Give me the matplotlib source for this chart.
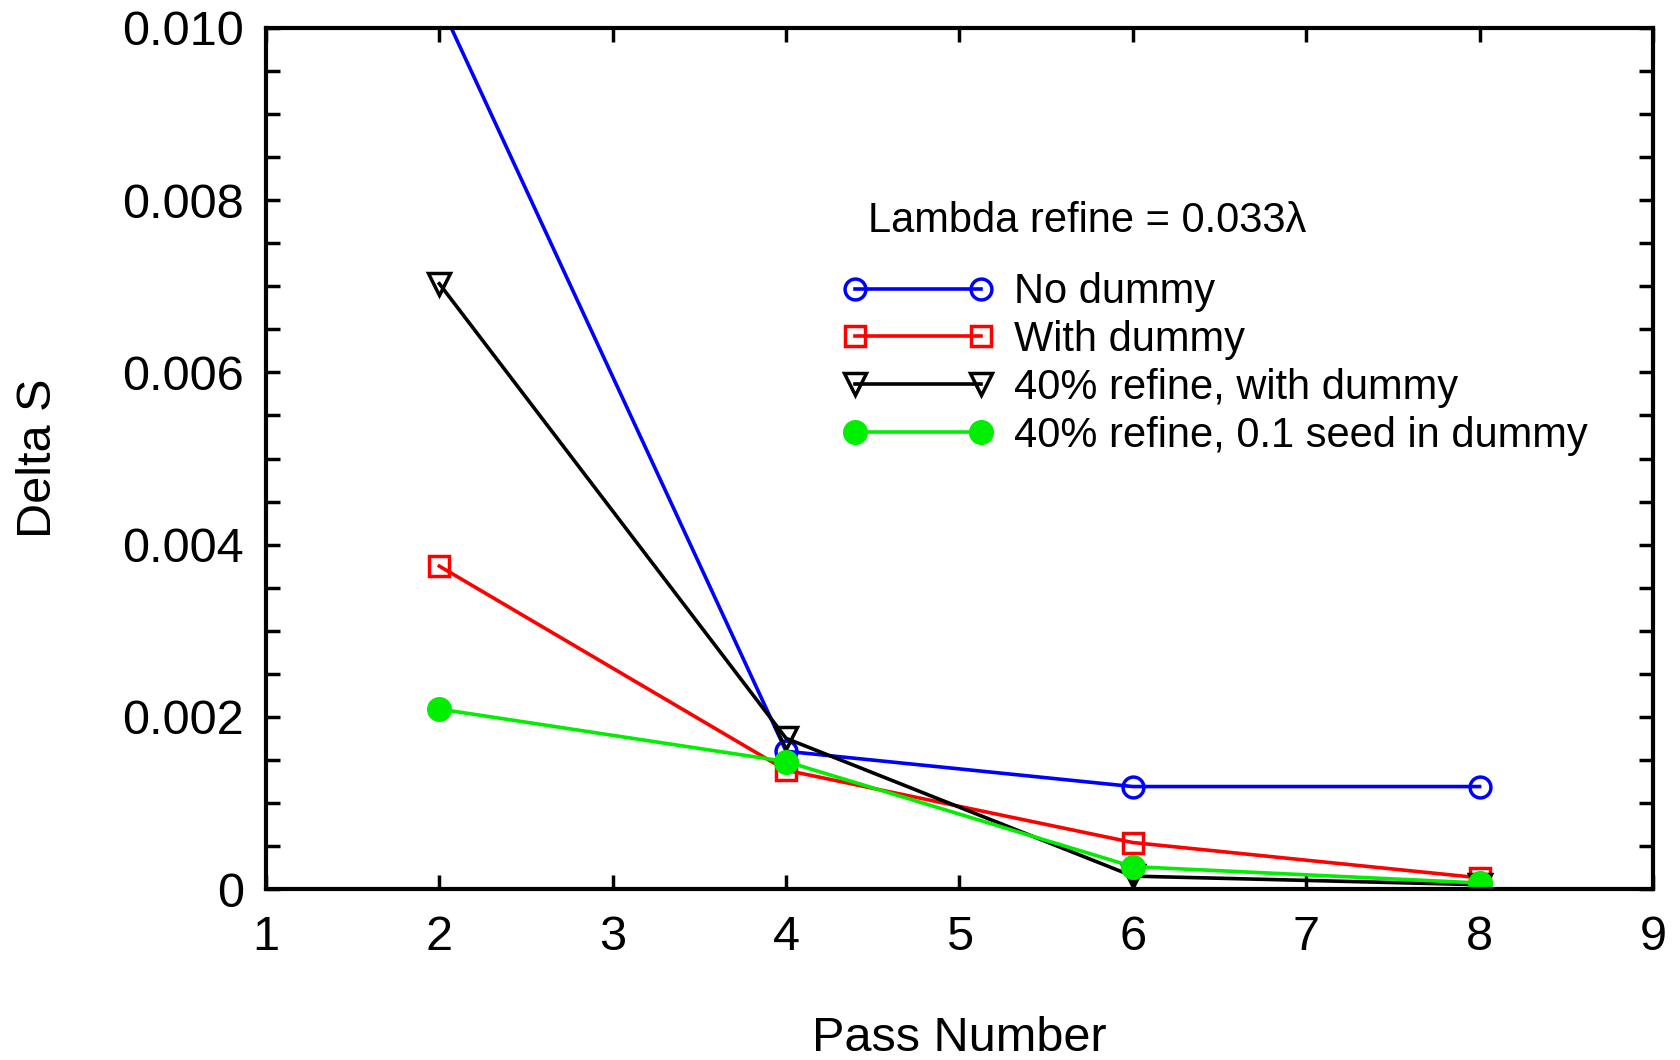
import matplotlib
matplotlib.use("Agg")
import matplotlib.pyplot as plt
from matplotlib.ticker import MultipleLocator

plt.rcParams['font.family'] = ['Liberation Sans', 'DejaVu Sans']

# Delta S per pass number
passes = [2, 4, 6, 8]
no_dummy = [0.0103, 0.00160, 0.00119, 0.00119]
with_dummy = [0.00375, 0.00138, 0.00054, 0.00013]
refine40_dummy = [0.00703, 0.00175, 0.00015, 0.00005]
refine40_seed = [0.00209, 0.00148, 0.00026, 0.00007]

labels = ["No dummy", "With dummy", "40% refine, with dummy",
          "40% refine, 0.1 seed in dummy"]

fig = plt.figure(figsize=(16.8, 10.6), dpi=100)
ax = fig.add_axes([0.1583, 0.1613, 0.8256, 0.8123])

lw = 2.6
ax.plot(passes, no_dummy, color='#0000ff', lw=lw, marker='o', ms=15,
        mfc='none', mew=2.5, label=labels[0])
ax.plot(passes, with_dummy, color='#ff0000', lw=lw, marker='s', ms=15,
        mfc='none', mew=2.5, label=labels[1])
ax.plot(passes, refine40_dummy, color='black', lw=lw, marker='v', ms=16,
        mfc='none', mew=2.5, label=labels[2])
ax.plot(passes, refine40_seed, color='#00ee00', lw=lw, marker='o', ms=17,
        mfc='#00ee00', mec='#00ee00', label=labels[3])

ax.set_xlim(1, 9)
ax.set_ylim(0, 0.010)
ax.xaxis.set_major_locator(MultipleLocator(1))
ax.yaxis.set_major_locator(MultipleLocator(0.002))
ax.yaxis.set_minor_locator(MultipleLocator(0.0005))
ax.yaxis.set_major_formatter(
    matplotlib.ticker.FuncFormatter(lambda v, p: '0' if v == 0 else f'{v:.3f}'))

for s in ax.spines.values():
    s.set_linewidth(3)
ax.tick_params(which='both', direction='in', top=True, right=True,
               length=10, width=2.5, labelsize=35, pad=16)
ax.tick_params(axis='x', pad=19)

ax.set_xlabel('Pass Number', fontsize=35, labelpad=40)
ax.set_ylabel('Delta S', fontsize=35, labelpad=44)

ax.text(0.434, 0.7763, 'Lambda refine = 0.033\u03bb', transform=ax.transAxes,
        fontsize=30, va='center', ha='left')
ax.legend(loc='upper left', bbox_to_anchor=(0.4157, 0.7165), frameon=False,
          numpoints=2, handlelength=3.62, handletextpad=0.5, labelspacing=0.19,
          fontsize=30, borderaxespad=0, borderpad=0)

fig.savefig('out.png', dpi=100)
